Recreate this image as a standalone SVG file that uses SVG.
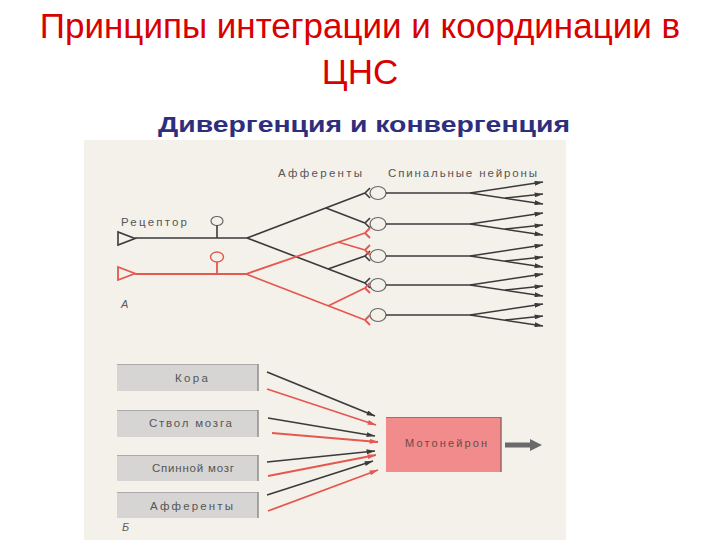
<svg xmlns="http://www.w3.org/2000/svg" width="720" height="540" viewBox="0 0 720 540">
<defs>
<style>
.title{font-family:"Liberation Sans",Arial,sans-serif;fill:#d90000;font-size:35px}
.sub{font-family:"Liberation Sans",Arial,sans-serif;fill:#2e2e7e;font-size:21.5px;font-weight:bold}
.lbl{font-family:"Liberation Sans",Arial,sans-serif;fill:#555;font-size:11.5px}
.it{font-family:"Liberation Sans",Arial,sans-serif;fill:#5a5a5a;font-size:11px;font-style:italic}
.bk{stroke:#3a3a3a;stroke-width:1.6;fill:none}
.rd{stroke:#e5574f;stroke-width:1.8;fill:none}
.nrn{stroke:#666;stroke-width:1.2;fill:#f4f1eb}
.box{fill:#d6d5d3}
.edge{stroke:#8c8c8c;stroke-width:1.5}
.top{stroke:#aaa;stroke-width:1}
</style>
<marker id="ak" viewBox="0 0 10 6" refX="10" refY="3" markerWidth="9" markerHeight="5" markerUnits="userSpaceOnUse" orient="auto"><path d="M0,0 L10,3 L0,6 Z" fill="#3a3a3a"/></marker>
<marker id="ar" viewBox="0 0 10 6" refX="10" refY="3" markerWidth="9" markerHeight="5" markerUnits="userSpaceOnUse" orient="auto"><path d="M0,0 L10,3 L0,6 Z" fill="#e5574f"/></marker>
</defs>
<rect width="720" height="540" fill="#ffffff"/>
<rect x="84" y="140" width="482" height="400" fill="#f4f1eb"/>

<text class="title" x="360" y="38" text-anchor="middle">Принципы интеграции и координации в</text>
<text class="title" x="360" y="84" text-anchor="middle">ЦНС</text>
<text class="sub" x="158" y="132" textLength="412" lengthAdjust="spacingAndGlyphs">Дивергенция и конвергенция</text>

<!-- Part A labels -->
<text class="lbl" x="278" y="177" textLength="84" lengthAdjust="spacing">Афференты</text>
<text class="lbl" x="388" y="177" textLength="149" lengthAdjust="spacing">Спинальные нейроны</text>
<text class="lbl" x="121" y="226" textLength="66" lengthAdjust="spacing">Рецептор</text>
<text class="it" x="121" y="308">А</text>

<!-- Receptors -->
<g id="receptor-black">
<path class="bk" d="M118,232 L118,245 L135,238.5 Z" stroke-width="1.3"/>
<ellipse class="nrn" cx="217" cy="221" rx="6" ry="4.5" stroke="#555"/>
<line class="bk" x1="217" y1="225.5" x2="217" y2="238" stroke-width="1.2"/>
</g>
<g id="receptor-red">
<path class="rd" d="M118,267 L118,280 L135,273.5 Z" stroke-width="1.4"/>
<ellipse cx="217" cy="257" rx="6.5" ry="5" fill="#f4f1eb" stroke="#e5574f" stroke-width="1.4"/>
<line class="rd" x1="217" y1="262" x2="217" y2="274" stroke-width="1.4"/>
</g>

<!-- Spinal neurons -->
<g id="neuron1"><ellipse class="nrn" cx="378" cy="193" rx="8" ry="6.5"/></g>
<g id="neuron2"><ellipse class="nrn" cx="378" cy="224" rx="8" ry="6.5"/></g>
<g id="neuron3"><ellipse class="nrn" cx="378" cy="256" rx="8" ry="6.5"/></g>
<g id="neuron4"><ellipse class="nrn" cx="378" cy="285" rx="8" ry="6.5"/></g>
<g id="neuron5"><ellipse class="nrn" cx="378" cy="315" rx="8" ry="6.5"/></g>

<g id="connectors-A">
<path class="bk" d="M135,238 L247,238 L365,193 M326,208 L365,223 M247,238 L365,283 M328,269 L365,256"/>
<path class="bk" stroke-width="1.2" d="M365,193 L370,188 M365,193 L370,198 M365,223 L370,218 M365,223 L370,228 M365,256 L370,251 M365,256 L370,261 M365,283 L370,278 M365,283 L370,288"/>
<path class="rd" d="M135,274 L246,274 L365,233 M338,242 L365,250 M246,274 L365,320 M328,306 L365,288"/>
<path class="rd" stroke-width="1.2" d="M365,233 L370,228 M365,233 L370,238 M365,250 L370,245 M365,250 L370,255 M365,320 L370,315 M365,320 L370,325 M365,288 L370,283 M365,288 L370,293"/>
<g class="bk" stroke-width="1.4">
<path d="M386,193 L470,193"/><path d="M470,193 L543,182" marker-end="url(#ak)"/><path d="M470,193 L543,204" marker-end="url(#ak)"/><path d="M505,198 L543,194" marker-end="url(#ak)"/>
<path d="M386,224 L470,224"/><path d="M470,224 L543,213" marker-end="url(#ak)"/><path d="M470,224 L543,235" marker-end="url(#ak)"/><path d="M505,229 L543,225" marker-end="url(#ak)"/>
<path d="M386,256 L470,256"/><path d="M470,256 L543,245" marker-end="url(#ak)"/><path d="M470,256 L543,267" marker-end="url(#ak)"/><path d="M505,261 L543,257" marker-end="url(#ak)"/>
<path d="M386,285 L470,285"/><path d="M470,285 L543,274" marker-end="url(#ak)"/><path d="M470,285 L543,296" marker-end="url(#ak)"/><path d="M505,290 L543,286" marker-end="url(#ak)"/>
<path d="M386,315 L470,315"/><path d="M470,315 L543,304" marker-end="url(#ak)"/><path d="M470,315 L543,326" marker-end="url(#ak)"/><path d="M505,320 L543,316" marker-end="url(#ak)"/>
</g>
</g>

<!-- Part B -->
<g id="box-kora">
<rect class="box" x="117" y="364" width="141" height="27"/>
<line class="top" x1="117" y1="364.5" x2="258" y2="364.5"/><line class="edge" x1="258" y1="364" x2="258" y2="391"/>
<text class="lbl" x="175" y="382" textLength="33" lengthAdjust="spacing">Кора</text>
</g>
<g id="box-stvol">
<rect class="box" x="117" y="410" width="141" height="27"/>
<line class="top" x1="117" y1="410.5" x2="258" y2="410.5"/><line class="edge" x1="258" y1="410" x2="258" y2="437"/>
<text class="lbl" x="149" y="427" textLength="83" lengthAdjust="spacing">Ствол мозга</text>
</g>
<g id="box-spinnoy">
<rect class="box" x="117" y="455" width="141" height="26"/>
<line class="top" x1="117" y1="455.5" x2="258" y2="455.5"/><line class="edge" x1="258" y1="455" x2="258" y2="481"/>
<text class="lbl" x="152" y="472" textLength="82" lengthAdjust="spacing">Спинной мозг</text>
</g>
<g id="box-afferenty">
<rect class="box" x="117" y="492" width="141" height="26"/>
<line class="top" x1="117" y1="492.5" x2="258" y2="492.5"/><line class="edge" x1="258" y1="492" x2="258" y2="518"/>
<text class="lbl" x="150" y="510" textLength="83" lengthAdjust="spacing">Афференты</text>
</g>
<text class="it" x="122" y="531">Б</text>

<g id="motoneuron">
<rect x="386" y="417" width="115" height="55" fill="#f28b8c"/>
<line x1="386" y1="417.5" x2="501" y2="417.5" stroke="#a86a6a" stroke-width="1"/>
<line x1="501" y1="417" x2="501" y2="472" stroke="#9a6464" stroke-width="1.5"/>
<text x="405" y="447" font-family="Liberation Sans, Arial, sans-serif" font-size="11" fill="#6a4a4a" textLength="82" lengthAdjust="spacing">Мотонейрон</text>
</g>

<g id="connectors-B">
<path class="bk" d="M267,372 L375,416" marker-end="url(#ak)"/>
<path class="rd" d="M267,389 L376,425" marker-end="url(#ar)"/>
<path class="bk" d="M268,418 L375,436" marker-end="url(#ak)"/>
<path class="rd" d="M272,433 L378,442" marker-end="url(#ar)"/>
<path class="bk" d="M267,462 L375,451" marker-end="url(#ak)"/>
<path class="rd" d="M268,476 L376,455" marker-end="url(#ar)"/>
<path class="bk" d="M267,495 L373,461" marker-end="url(#ak)"/>
<path class="rd" d="M268,511 L378,470" marker-end="url(#ar)"/>
<path d="M505,442.5 L530,442.5 L530,439 L542,445 L530,451 L530,447.5 L505,447.5 Z" fill="#6a6a6a"/>
</g>
</svg>
